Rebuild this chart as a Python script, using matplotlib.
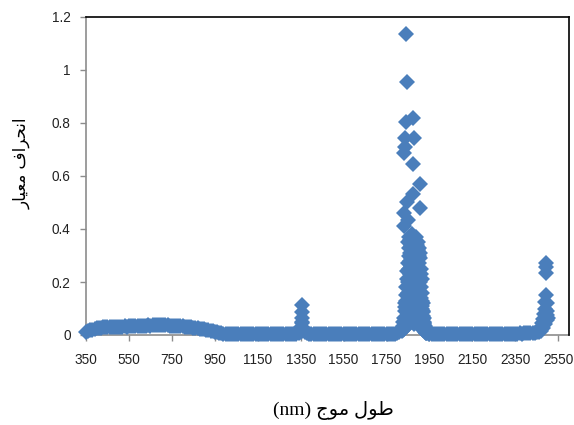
import matplotlib
matplotlib.use("Agg")
import matplotlib.pyplot as plt
import numpy as np

# wavelength grid (nm) every 10 nm, standard deviation values
grid_wl = np.arange(350, 2501, 10)
grid_sd = [
    0.012, 0.016, 0.018, 0.020, 0.022, 0.025, 0.027, 0.028, 0.029, 0.030,
    0.030, 0.031, 0.030, 0.031, 0.032, 0.031, 0.032, 0.032, 0.033, 0.032,
    0.033, 0.033, 0.034, 0.033, 0.034, 0.034, 0.035, 0.034, 0.035, 0.036,
    0.035, 0.036, 0.036, 0.037, 0.036, 0.036, 0.037, 0.036, 0.036, 0.035,
    0.035, 0.035, 0.034, 0.034, 0.033, 0.033, 0.032, 0.031, 0.030, 0.029,
    0.028, 0.027, 0.025, 0.024, 0.022, 0.021, 0.019, 0.018, 0.016, 0.015,
    0.013, 0.011, 0.009, 0.007, 0.005, 0.004, 0.003, 0.003, 0.003, 0.003,
    0.003, 0.002, 0.003, 0.002, 0.002, 0.003, 0.002, 0.002, 0.003, 0.002,
    0.002, 0.002, 0.003, 0.002, 0.002, 0.002, 0.003, 0.002, 0.002, 0.003,
    0.003, 0.002, 0.003, 0.003, 0.002, 0.003, 0.003, 0.004, 0.004, 0.006,
    0.012, 0.018, 0.010, 0.006, 0.004, 0.003, 0.003, 0.002, 0.003, 0.002,
    0.002, 0.002, 0.002, 0.003, 0.002, 0.002, 0.002, 0.002, 0.003, 0.002,
    0.002, 0.002, 0.002, 0.002, 0.003, 0.002, 0.002, 0.002, 0.002, 0.002,
    0.002, 0.003, 0.002, 0.002, 0.002, 0.003, 0.002, 0.003, 0.003, 0.003,
    0.003, 0.003, 0.004, 0.004, 0.005, 0.007, 0.010, 0.015, 0.022, 0.030,
    0.045, 0.060, 0.050, 0.040, 0.055, 0.045, 0.030, 0.020, 0.012, 0.008,
    0.005, 0.004, 0.003, 0.003, 0.003, 0.002, 0.003, 0.002, 0.002, 0.002,
    0.002, 0.002, 0.003, 0.002, 0.002, 0.002, 0.002, 0.003, 0.002, 0.002,
    0.002, 0.002, 0.002, 0.003, 0.002, 0.002, 0.003, 0.002, 0.002, 0.003,
    0.003, 0.002, 0.003, 0.003, 0.003, 0.004, 0.003, 0.004, 0.004, 0.005,
    0.004, 0.005, 0.006, 0.005, 0.007, 0.006, 0.008, 0.007, 0.009, 0.008,
    0.010, 0.012, 0.016, 0.025, 0.040, 0.065,
]

# water band near 1350 nm
peak1_wl = [1352, 1355, 1356, 1357, 1356, 1358, 1362]
peak1_sd = [0.030, 0.045, 0.063, 0.088, 0.113, 0.050, 0.025]

# water band near 1850-1900 nm (1 nm steps)
peak2_wl = np.arange(1826, 1936)
peak2_sd = [
    0.020, 0.035, 0.030, 0.050, 0.065, 0.411, 0.687, 0.460, 0.090, 0.120,
    0.105, 0.743, 0.710, 0.150, 1.136, 0.805, 0.180, 0.130, 0.210, 0.956,
    0.503, 0.240, 0.160, 0.270, 0.200, 0.350, 0.434, 0.300, 0.370, 0.250,
    0.330, 0.280, 0.190, 0.360, 0.230, 0.310, 0.140, 0.260, 0.340, 0.220,
    0.290, 0.170, 0.380, 0.240, 0.320, 0.110, 0.270, 0.645, 0.820, 0.532,
    0.350, 0.200, 0.300, 0.743, 0.250, 0.360, 0.150, 0.280, 0.330, 0.080,
    0.230, 0.310, 0.190, 0.370, 0.260, 0.120, 0.340, 0.210, 0.290, 0.160,
    0.350, 0.240, 0.320, 0.180, 0.300, 0.270, 0.330, 0.220, 0.478, 0.290,
    0.310, 0.570, 0.200, 0.250, 0.140, 0.230, 0.180, 0.210, 0.100, 0.160,
    0.130, 0.110, 0.090, 0.120, 0.070, 0.085, 0.060, 0.050, 0.065, 0.040,
    0.045, 0.030, 0.035, 0.025, 0.020, 0.015, 0.012, 0.010, 0.008, 0.006,
]

# edge of the range near 2500 nm
peak3_wl = [2470, 2475, 2480, 2484, 2487, 2490, 2492, 2493, 2494, 2495, 2496, 2497, 2498, 2499]
peak3_sd = [0.030, 0.045, 0.060, 0.080, 0.100, 0.126, 0.151, 0.235, 0.270, 0.255, 0.120, 0.090, 0.075, 0.057]

wl = np.concatenate([grid_wl, peak1_wl, peak2_wl, peak3_wl])
sd = np.concatenate([grid_sd, peak1_sd, peak2_sd, peak3_sd])

xticks = list(range(350, 2551, 200))
yticks = [0, 0.2, 0.4, 0.6, 0.8, 1, 1.2]
ytick_labels = ["0", "0.2", "0.4", "0.6", "0.8", "1", "1.2"]

# Arabic text pre-shaped (presentation forms, visual order)
ylabel_txt = "\uFEAD\uFE8E\uFEF4\uFECC\uFEE3 \uFED1\uFE8D\uFEAE\uFEA4\uFEE7\uFE8D"
xlabel_txt = "(nm) \uFE9D\uFEEE\uFEE3 \uFEDD\uFEEE\uFEC3"

fig = plt.figure(figsize=(5.74, 4.25), dpi=100)
ax = fig.add_axes([86/574, 90/425, 483/574, 318/425])

ax.plot(wl, sd, linestyle="none", marker="D", markersize=7.7,
        color="#4A7EBB", markeredgewidth=0, clip_on=False, zorder=3)

ax.set_xlim(350, 2600)
ax.set_ylim(0, 1.2)
ax.set_xticks(xticks)
ax.set_yticks(yticks)
ax.set_yticklabels(ytick_labels)

for s in ["top", "right"]:
    ax.spines[s].set_color("black")
    ax.spines[s].set_linewidth(1.2)
for s in ["left", "bottom"]:
    ax.spines[s].set_color("#8c8c8c")
    ax.spines[s].set_linewidth(1.2)
    ax.spines[s].set_zorder(1)

ax.tick_params(axis="both", direction="out", length=4, width=1,
               color="#8c8c8c", labelsize=9.8, labelcolor="#222222")
ax.tick_params(axis="x", pad=9)
ax.tick_params(axis="y", pad=7)
for lab in ax.get_xticklabels() + ax.get_yticklabels():
    lab.set_family(["Liberation Sans", "DejaVu Sans"])

fig.text(333/574, 1 - 410/425, xlabel_txt, ha="center", va="center",
         fontsize=14, family=["Liberation Serif", "DejaVu Sans"])
fig.text(22/574, 1 - 163/425, ylabel_txt, ha="center", va="center",
         rotation=90, fontsize=12, family=["DejaVu Sans"])

fig.savefig("out.png", dpi=100)
